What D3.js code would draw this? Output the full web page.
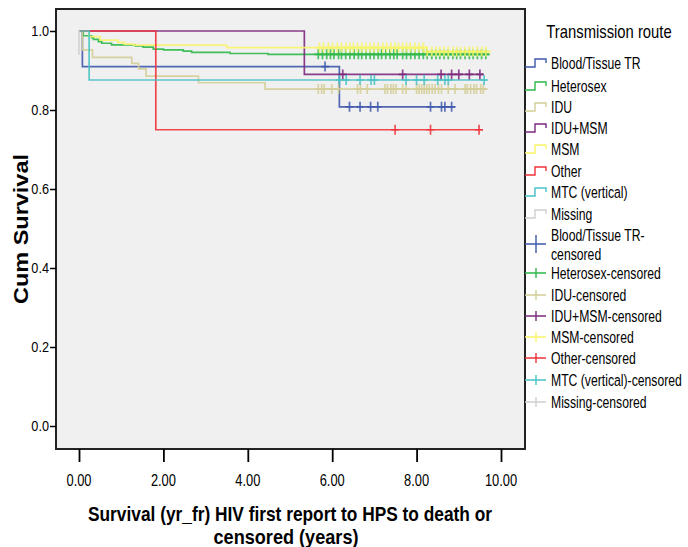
<!DOCTYPE html>
<html>
<head>
<meta charset="utf-8">
<script src="https://cdn.jsdelivr.net/npm/d3@7"></script>
<style>
  html, body { margin: 0; padding: 0; background: #ffffff; }
  svg { display: block; }
  text { font-family: "Liberation Sans", Arial, sans-serif; fill: #000; }
</style>
</head>
<body>
<svg id="chart" width="688" height="547"></svg>
<script>
// ---- Kaplan-Meier data by transmission route ----
const groups = ["Blood/Tissue TR", "Heterosex", "IDU", "IDU+MSM", "MSM", "Other", "MTC (vertical)", "Missing"];
const groupColors = ["#3e58ac", "#2eb848", "#d3ce97", "#7c287d", "#f8f46a", "#ef3338", "#48c2c5", "#cfcfcf"];

// event (death) times in years and cumulative survival after each event
const bloodTimes = [0.08, 6.17];
const bloodSurv = [0.910, 0.808];
const bloodEnd = 8.91;
const bloodCensored = [5.83, 6.41, 6.66, 6.91, 7.08, 8.33, 8.59, 8.67, 8.83];

const heteroTimes = [0.10, 0.30, 0.34, 0.46, 0.54, 0.77, 1.33, 1.52, 1.76, 2.00, 2.47, 2.67, 3.58, 4.48];
const heteroSurv = [0.988, 0.983, 0.979, 0.973, 0.969, 0.965, 0.962, 0.959, 0.954, 0.952, 0.949, 0.946, 0.943, 0.941];
const heteroEnd = 9.72;
const heteroCensored = [5.67, 5.77, 5.87, 5.96, 6.04, 6.15, 6.22, 6.32, 6.42, 6.52, 6.62, 6.70, 6.80, 6.90,
  6.99, 7.09, 7.17, 7.27, 7.37, 7.46, 7.54, 7.67, 7.76, 7.86, 7.96, 8.06, 8.16, 8.25, 8.36, 8.46, 8.55,
  8.65, 8.75, 8.86, 8.95, 9.04, 9.15, 9.25, 9.34, 9.44, 9.54, 9.64];

const iduTimes = [0.08, 0.32, 1.25, 1.41, 1.59, 2.83, 4.41];
const iduSurv = [0.952, 0.933, 0.918, 0.904, 0.886, 0.869, 0.853];
const iduEnd = 9.68;
const iduCensored = [5.67, 5.75, 5.81, 5.99, 6.15, 6.60, 6.67, 6.83, 7.25, 7.31, 7.39, 7.45, 7.51, 7.67,
  7.75, 8.00, 8.06, 8.12, 8.18, 8.24, 8.30, 8.37, 8.44, 8.52, 8.59, 8.75, 8.91, 9.15, 9.20, 9.28, 9.36,
  9.42, 9.52, 9.58];

const iduMsmTimes = [5.34];
const iduMsmSurv = [0.890];
const iduMsmEnd = 9.58;
const iduMsmCensored = [6.25, 7.67, 8.58, 8.83, 9.00, 9.25, 9.50];

const msmTimes = [0.24, 0.50, 0.92, 1.07, 1.30, 3.50, 8.25];
const msmSurv = [0.986, 0.977, 0.971, 0.967, 0.964, 0.958, 0.948];
const msmEnd = 9.76;
const msmCensored = [5.70, 5.79, 5.91, 6.01, 6.12, 6.22, 6.33, 6.42, 6.50, 6.60, 6.70, 6.80, 6.90, 6.99,
  7.09, 7.20, 7.29, 7.39, 7.49, 7.57, 7.67, 7.76, 7.85, 7.96, 8.06, 8.16, 8.25, 8.36, 8.46, 8.55, 8.65,
  8.75, 8.86, 8.95, 9.04, 9.15, 9.25, 9.34, 9.44, 9.54, 9.64];

const otherTimes = [1.82];
const otherSurv = [0.750];
const otherEnd = 9.57;
const otherCensored = [7.49, 8.33, 9.48];

const mtcTimes = [0.24];
const mtcSurv = [0.876];
const mtcEnd = 9.66;
const mtcCensored = [6.17, 6.33, 6.66, 6.92, 7.00, 7.75, 8.00, 8.18, 8.50, 8.67, 8.75, 9.60];

const missingTimes = [0.0];
const missingSurv = [0.940];
const missingEnd = 0.0;
const missingCensored = [];

const xTicks = [0, 2, 4, 6, 8, 10];
const yTicks = [0, 0.2, 0.4, 0.6, 0.8, 1.0];

const series = [
  { times: bloodTimes, surv: bloodSurv, end: bloodEnd, cens: bloodCensored },
  { times: heteroTimes, surv: heteroSurv, end: heteroEnd, cens: heteroCensored },
  { times: iduTimes, surv: iduSurv, end: iduEnd, cens: iduCensored },
  { times: iduMsmTimes, surv: iduMsmSurv, end: iduMsmEnd, cens: iduMsmCensored },
  { times: msmTimes, surv: msmSurv, end: msmEnd, cens: msmCensored },
  { times: otherTimes, surv: otherSurv, end: otherEnd, cens: otherCensored },
  { times: mtcTimes, surv: mtcSurv, end: mtcEnd, cens: mtcCensored },
  { times: missingTimes, surv: missingSurv, end: missingEnd, cens: missingCensored }
].map((s, i) => ({ ...s, name: groups[i], color: groupColors[i] }));

// ---- layout ----
const svg = d3.select("#chart");
const frame = { left: 56, right: 525, top: 9, bottom: 449 };
const x = d3.scaleLinear().domain([0, 10]).range([79, 501]);
const y = d3.scaleLinear().domain([0, 1]).range([426, 31]);
const SX = 0.8; // narrow type, as in the original statistics output

function label(g, px, py, str, opt = {}) {
  const t = g.append("text")
    .attr("transform", `translate(${px},${py}) scale(${opt.sx ?? SX},1)`)
    .attr("text-anchor", opt.anchor || "start")
    .style("font-size", (opt.size || 15) + "px")
    .style("font-weight", opt.weight || "normal")
    .text(str);
  return t;
}

svg.append("rect").attr("width", 688).attr("height", 547).attr("fill", "#fff");

// plot background
svg.append("rect")
  .attr("x", frame.left).attr("y", frame.top)
  .attr("width", frame.right - frame.left).attr("height", frame.bottom - frame.top)
  .attr("fill", "#f0f0f0");

// ---- curves ----
const plot = svg.append("g");
const line = d3.line().x(d => x(d[0])).y(d => y(d[1])).curve(d3.curveStepAfter);

function survAt(s, t) {
  let v = 1;
  s.times.forEach((et, i) => { if (et <= t) v = s.surv[i]; });
  return v;
}

series.forEach(s => {
  const pts = [[0, 1]];
  s.times.forEach((t, i) => pts.push([t, s.surv[i]]));
  pts.push([s.end, s.surv[s.surv.length - 1]]);
  plot.append("path")
    .attr("d", line(pts))
    .attr("fill", "none")
    .attr("stroke", s.color)
    .attr("stroke-width", 1.7)
    .attr("opacity", 0.9);
});

// censored marks (+)
series.forEach(s => {
  s.cens.forEach(t => {
    const cx = x(t), cy = y(survAt(s, t));
    plot.append("path")
      .attr("d", `M${cx - 4},${cy}H${cx + 4}M${cx},${cy - 5}V${cy + 5}`)
      .attr("stroke", s.color)
      .attr("stroke-width", 1.7)
      .attr("fill", "none")
      .attr("opacity", 0.85);
  });
});

// ---- frame and axes ----
svg.append("rect")
  .attr("x", frame.left).attr("y", frame.top)
  .attr("width", frame.right - frame.left).attr("height", frame.bottom - frame.top)
  .attr("fill", "none").attr("stroke", "#222").attr("stroke-width", 2);

const xAxis = svg.append("g").attr("transform", `translate(0,${frame.bottom})`)
  .call(d3.axisBottom(x).tickValues(xTicks).tickSize(13).tickFormat(d3.format(".2f")));
xAxis.select(".domain").remove();
xAxis.selectAll(".tick line").attr("stroke", "#000").attr("stroke-width", 1.8);
xAxis.selectAll(".tick text").remove();
xTicks.forEach(v => label(svg, x(v), 486, d3.format(".2f")(v), { anchor: "middle", size: 16.5, sx: 0.78 }));

const yAxis = svg.append("g").attr("transform", `translate(${frame.left},0)`)
  .call(d3.axisLeft(y).tickValues(yTicks).tickSize(6).tickFormat(d3.format(".1f")));
yAxis.select(".domain").remove();
yAxis.selectAll(".tick line").attr("stroke", "#000").attr("stroke-width", 1.5);
yAxis.selectAll(".tick text").remove();
yTicks.forEach(v => label(svg, 49, y(v) + 5, d3.format(".1f")(v), { anchor: "end", size: 15.5, sx: 0.82 }));

// axis titles
svg.append("text")
  .attr("x", 290).attr("y", 521).attr("text-anchor", "middle")
  .attr("textLength", 404).attr("lengthAdjust", "spacingAndGlyphs")
  .style("font-size", "21px").style("font-weight", "bold")
  .text("Survival (yr_fr) HIV first report to HPS to death or");
svg.append("text")
  .attr("x", 286).attr("y", 544).attr("text-anchor", "middle")
  .attr("textLength", 145).attr("lengthAdjust", "spacingAndGlyphs")
  .style("font-size", "21px").style("font-weight", "bold")
  .text("censored (years)");
svg.append("text")
  .attr("transform", "translate(28,229) rotate(-90)")
  .attr("text-anchor", "middle")
  .attr("textLength", 150).attr("lengthAdjust", "spacingAndGlyphs")
  .style("font-size", "21px").style("font-weight", "bold")
  .text("Cum Survival");

// ---- legend ----
const leg = svg.append("g");
label(leg, 609, 38, "Transmission route", { anchor: "middle", size: 18.5 });

const stepRows = [63, 86, 107, 128, 149, 171, 192, 214];
series.forEach((s, i) => {
  const cy = stepRows[i];
  leg.append("path")
    .attr("d", `M525,${cy + 4}H535V${cy - 4}H546V${cy}`)
    .attr("fill", "none").attr("stroke", s.color).attr("stroke-width", 1.4);
  label(leg, 551, cy + 5.5, s.name, { size: 16.5, sx: 0.74 });
});

const censRows = [244, 273, 295, 316, 337, 358, 380, 402];
series.forEach((s, i) => {
  const cy = censRows[i];
  const h = i === 0 ? 9 : 5;
  leg.append("path")
    .attr("d", `M525,${cy}H546M536,${cy - h}V${cy + h}`)
    .attr("fill", "none").attr("stroke", s.color).attr("stroke-width", 1.4);
  if (i === 0) {
    label(leg, 551, 240.5, s.name + "-", { size: 16.5, sx: 0.74 });
    label(leg, 551, 259.5, "censored", { size: 16.5, sx: 0.74 });
  } else {
    label(leg, 551, cy + 5.5, s.name + "-censored", { size: 16.5, sx: 0.74 });
  }
});
</script>
</body>
</html>
